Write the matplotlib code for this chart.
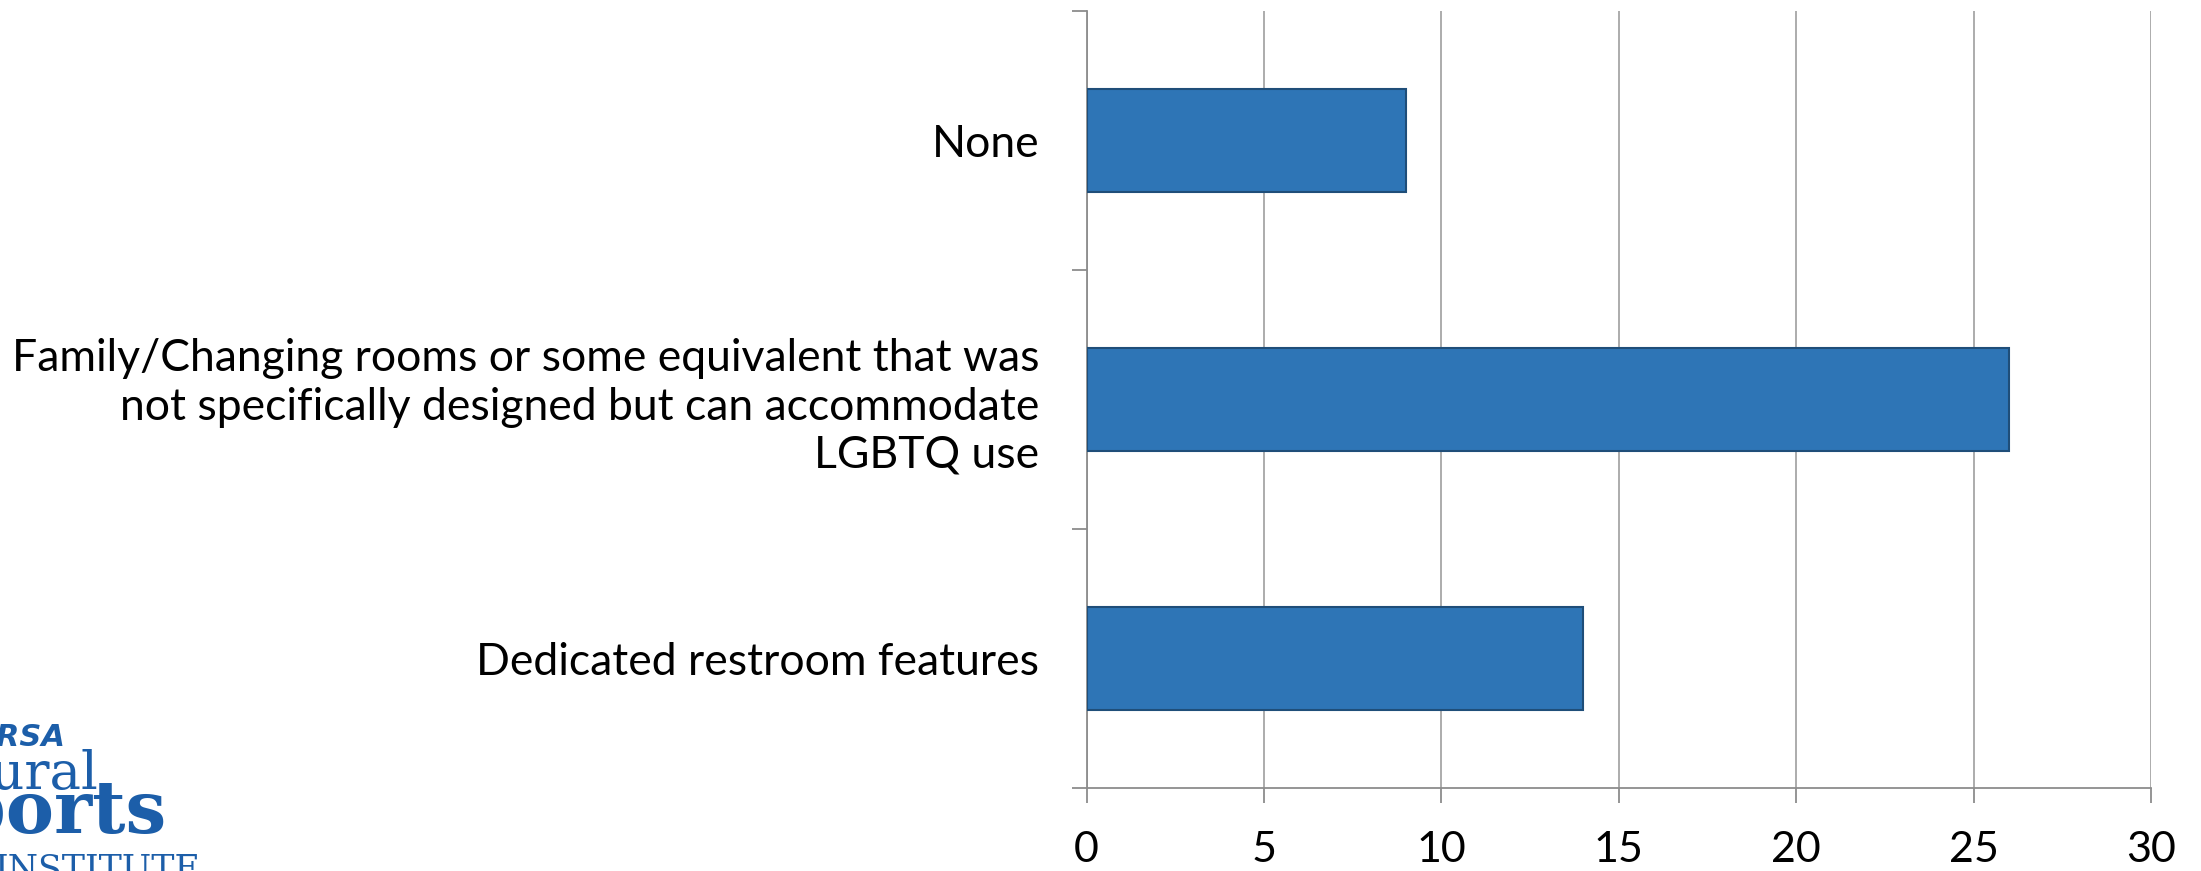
import matplotlib
matplotlib.use('Agg')
import matplotlib.pyplot as plt
import numpy as np

categories = ['Dedicated restroom features',
              'Family/Changing rooms or some equivalent that was\nnot specifically designed but can accommodate\nLGBTQ use',
              'None']
counts = [14, 26, 9]
x_ticks = [0, 5, 10, 15, 20, 25, 30]

plt.rcParams['font.family'] = ['Lato', 'DejaVu Sans']

fig = plt.figure(figsize=(22.01, 8.71), dpi=100)
ax = fig.add_axes([0.4937, 0.0953, 0.4836, 0.8921])

y = np.arange(len(categories))
ax.barh(y, counts, height=0.4, color='#2e75b6', edgecolor='#1f4e79', linewidth=1.5, zorder=3)

ax.set_xlim(0, 30)
ax.set_ylim(-0.5, len(categories) - 0.5)
ax.set_xticks(x_ticks)
ax.set_xticklabels([str(t) for t in x_ticks], fontsize=31)
ax.grid(axis='x', color='#a6a6a6', linewidth=1.3, zorder=0)

# category boundaries get the tick marks, labels sit at bar centres
ax.set_yticks(np.arange(-0.5, len(categories), 1.0))
ax.set_yticklabels([])
ax.set_yticks(y, minor=True)
ax.set_yticklabels(categories, minor=True, fontsize=32, ha='right', linespacing=1.22)
ax.tick_params(axis='y', which='major', length=11, width=1.3, color='#8c8c8c', direction='out')
ax.tick_params(axis='y', which='minor', length=0, pad=34)
ax.tick_params(axis='x', length=11, width=1.3, color='#8c8c8c', direction='out', pad=20)

for side in ['top', 'right']:
    ax.spines[side].set_visible(False)
for side in ['left', 'bottom']:
    ax.spines[side].set_color('#8c8c8c')
    ax.spines[side].set_linewidth(1.3)

# partial NIRSA logo in the lower left corner
logo_blue = '#1c5ea9'
fig.text(65 / 2201, 1 - 746 / 871, 'NIRSA', fontsize=22, fontweight='heavy', style='italic',
         color=logo_blue, ha='right', va='baseline', family=['DejaVu Sans'])
fig.text(98 / 2201, 1 - 789 / 871, 'Intramural', fontsize=38, color=logo_blue,
         ha='right', va='baseline', family=['DejaVu Serif'], fontweight='light')
fig.text(167 / 2201, 1 - 833 / 871, 'Sports', fontsize=52, fontweight='bold', color=logo_blue,
         ha='right', va='baseline', family=['DejaVu Serif'])
fig.text(200 / 2201, 1 - 880 / 871, 'INSTITUTE', fontsize=25, color=logo_blue,
         ha='right', va='baseline', family=['DejaVu Serif'])

fig.savefig('out.png', dpi=100)
plt.close(fig)
